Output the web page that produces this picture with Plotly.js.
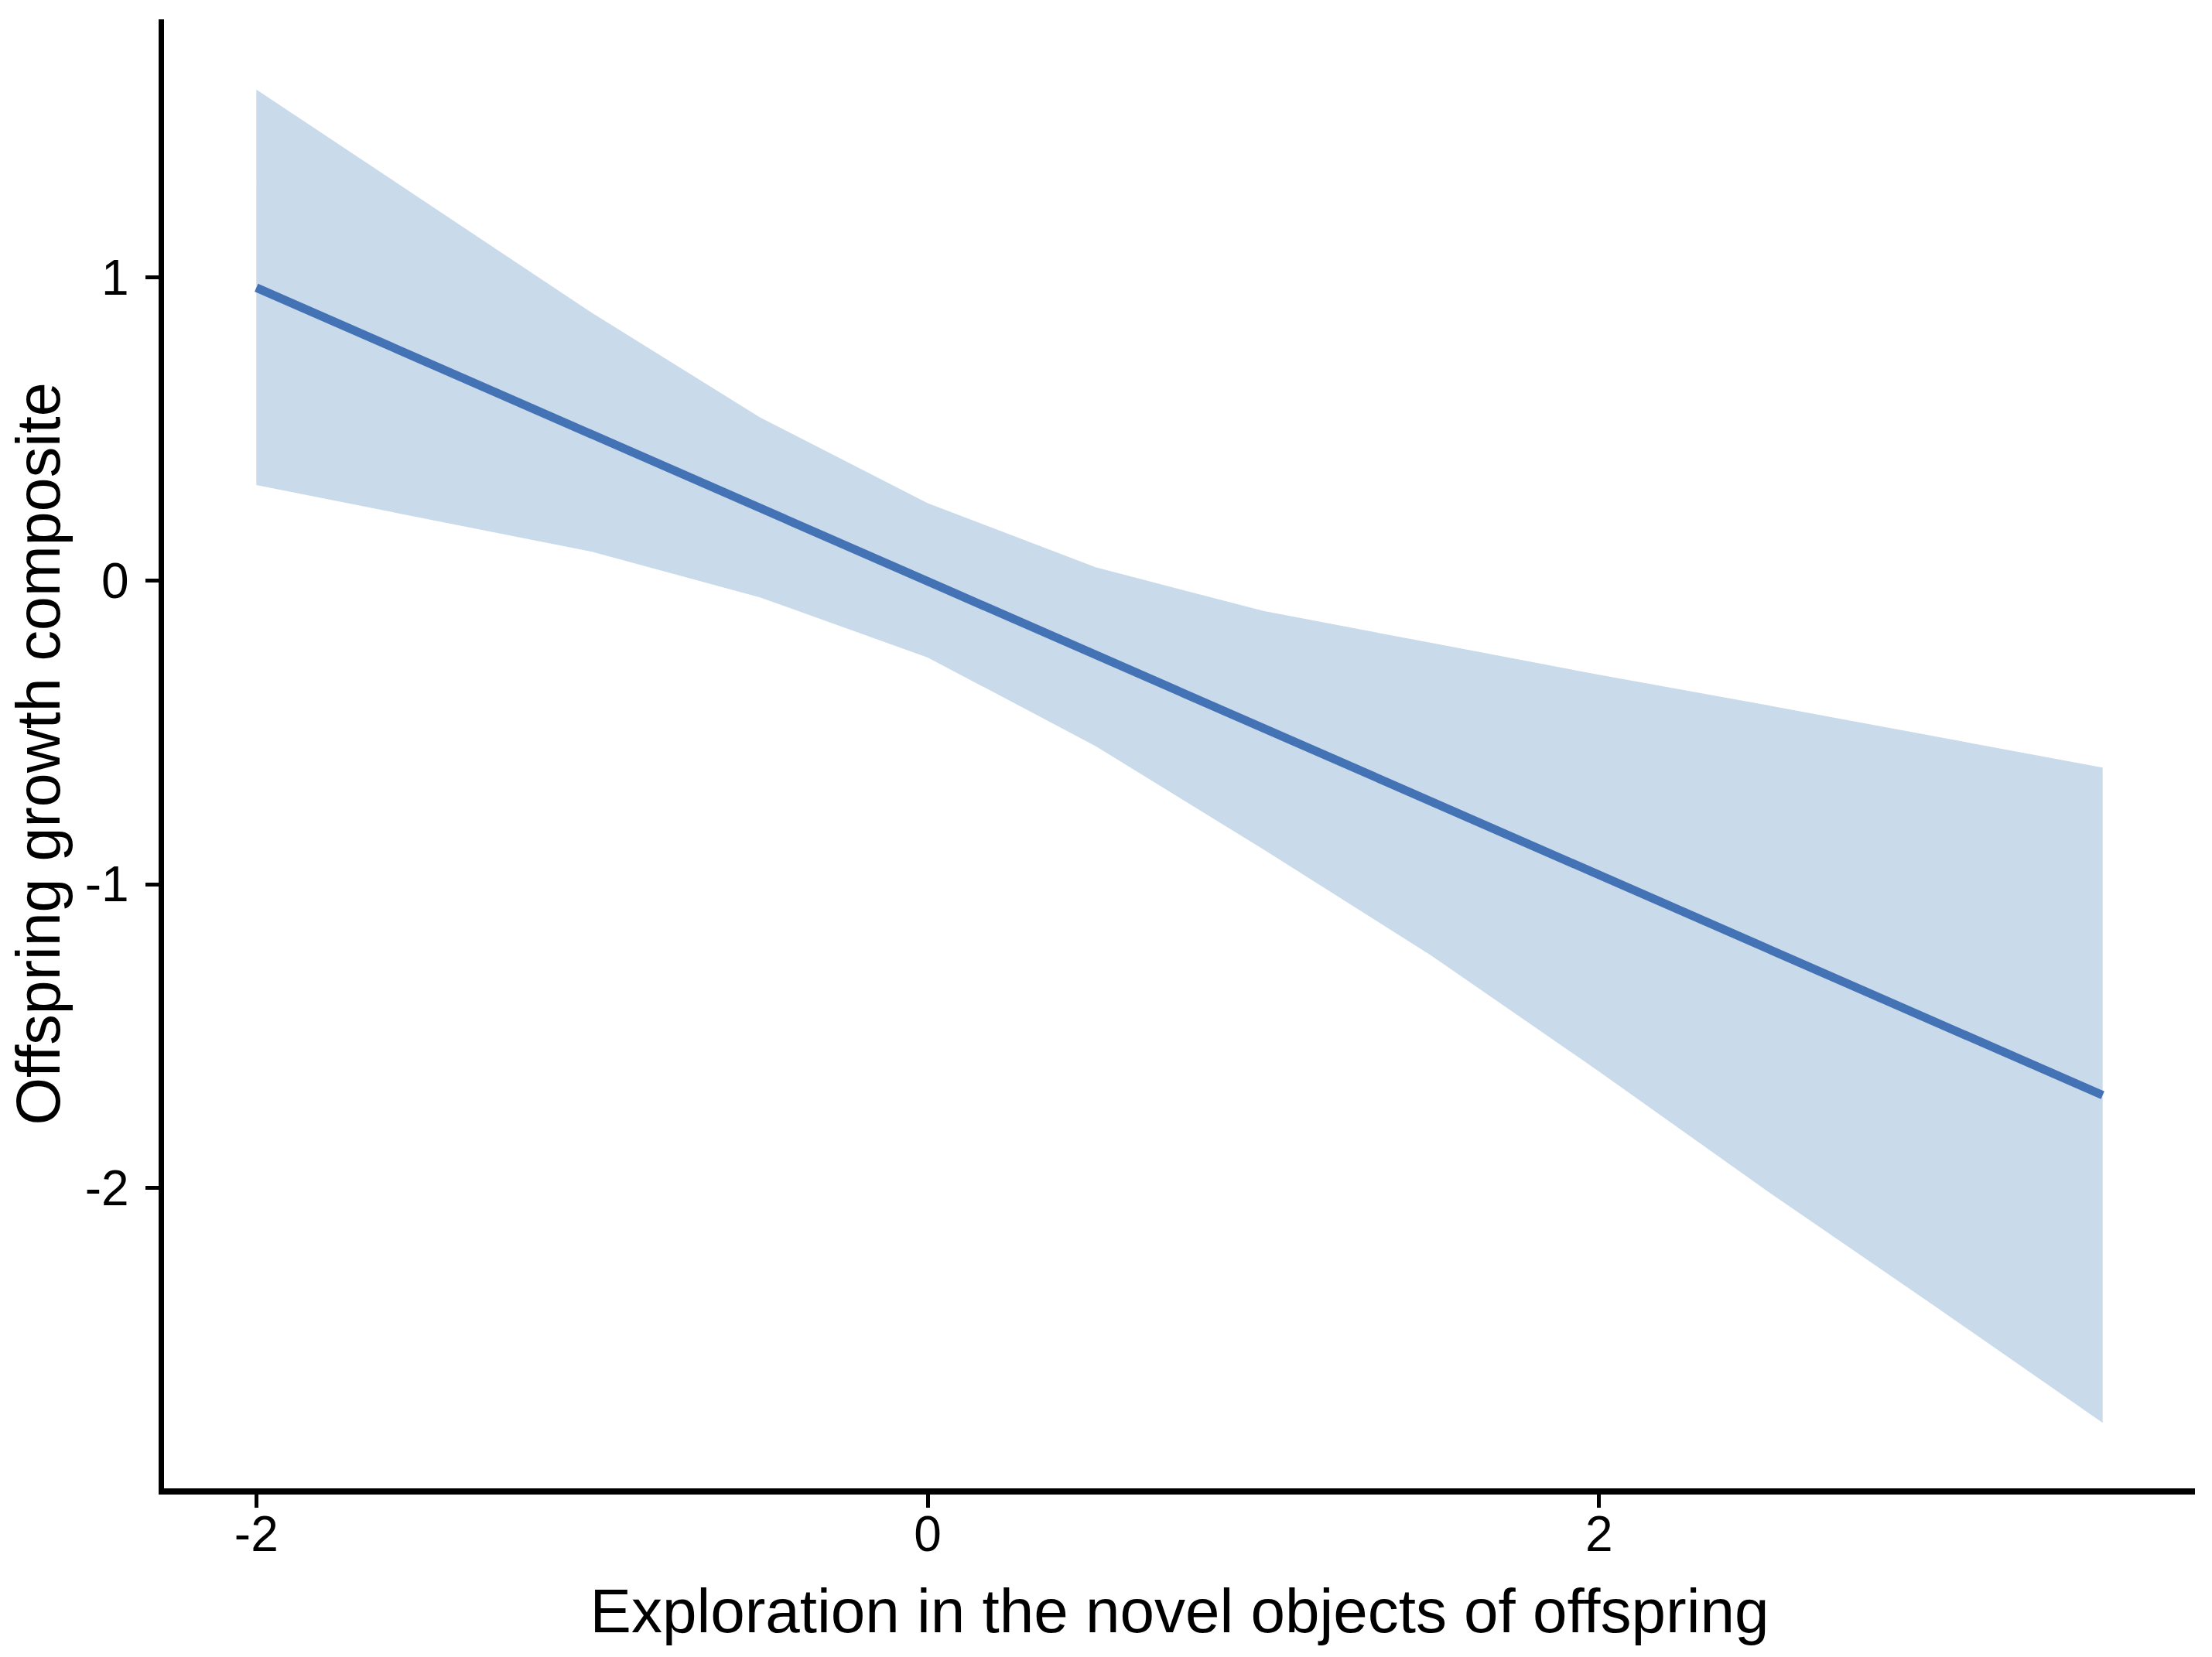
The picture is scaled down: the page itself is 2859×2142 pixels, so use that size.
<!DOCTYPE html>
<html>
<head>
<meta charset="utf-8">
<script src="https://cdn.plot.ly/plotly-3.0.1.min.js"></script>
<style>
    html, body { margin: 0; padding: 0; background: #ffffff; }
    #growth-plot { width: 2859px; height: 2142px; }
</style>
</head>
<body>
<div id="growth-plot"></div>
<script>
// values
let bandX = [-2, -1.5, -1, -0.5, 0, 0.5, 1, 1.5, 2, 2.5, 3, 3.5];
let bandUpper = [1.618, 1.25, 0.882, 0.538, 0.255, 0.044, -0.10, -0.205, -0.31, -0.41, -0.513, -0.616];
let bandLower = [0.315, 0.205, 0.095, -0.055, -0.253, -0.545, -0.885, -1.235, -1.617, -2.01, -2.39, -2.774];
let fitX = [-2, 3.5];
let fitY = [0.965, -1.695];
let xTicks = [-2, 0, 2];
let yTicks = [-2, -1, 0, 1];

let axisFont = 'Liberation Sans, Arial, sans-serif';

let makeGraph = function () {
    let lowerData = {
        x: bandX,
        y: bandLower,
        mode: 'lines',
        line: { width: 0, color: 'rgba(0,0,0,0)' },
        hoverinfo: 'skip',
        showlegend: false,
        type: 'scatter',
    };

    let upperData = {
        x: bandX,
        y: bandUpper,
        mode: 'lines',
        fill: 'tonexty',
        fillcolor: 'rgb(201, 218, 235)',
        line: { width: 0, color: 'rgba(0,0,0,0)' },
        hoverinfo: 'skip',
        showlegend: false,
        type: 'scatter',
    };

    let fitData = {
        x: fitX,
        y: fitY,
        mode: 'lines',
        line: { color: 'rgb(67, 114, 181)', width: 11 },
        showlegend: false,
        type: 'scatter',
    };

    let layout = {
        width: 2859,
        height: 2142,
        margin: { l: 212, r: 22, t: 25, b: 218 },
        paper_bgcolor: '#ffffff',
        plot_bgcolor: '#ffffff',
        showlegend: false,
        xaxis: {
            range: [-2.275, 3.775],
            tickvals: xTicks,
            ticktext: xTicks.map(String),
            showgrid: false,
            zeroline: false,
            showline: true,
            linecolor: '#000000',
            linewidth: 7.5,
            ticks: 'outside',
            ticklen: 17,
            tickwidth: 5,
            tickcolor: '#000000',
            ticklabelstandoff: -20,
            tickfont: { family: axisFont, size: 64, color: '#000000' },
            title: {
                text: 'Exploration in the novel objects of offspring',
                font: { family: axisFont, size: 80, color: '#000000' },
                standoff: 38,
            },
        },
        yaxis: {
            range: [-2.99, 1.849],
            tickvals: yTicks,
            ticktext: yTicks.map(String),
            showgrid: false,
            zeroline: false,
            showline: true,
            linecolor: '#000000',
            linewidth: 7.5,
            ticks: 'outside',
            ticklen: 17,
            tickwidth: 5,
            tickcolor: '#000000',
            ticklabelstandoff: 8,
            tickfont: { family: axisFont, size: 64, color: '#000000' },
            title: {
                text: 'Offspring growth composite',
                font: { family: axisFont, size: 79, color: '#000000' },
                standoff: 9,
            },
        },
    };

    Plotly.newPlot('growth-plot', [lowerData, upperData, fitData], layout, { staticPlot: true });
}

makeGraph();
</script>
</body>
</html>
